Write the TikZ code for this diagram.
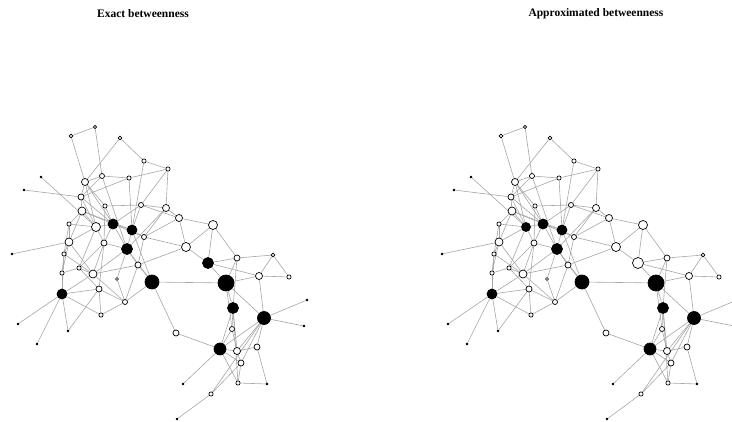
\documentclass[tikz,border=0pt]{standalone}
\usepackage{fontspec}
\setmainfont{Liberation Serif}
\pgfdeclarelayer{bg}
\pgfsetlayers{bg,main}

\begin{document}
\begin{tikzpicture}[x=1pt,y=-1pt,
	vtx/.style={circle,draw,line width=0.7pt,inner sep=0pt,minimum size=#1},
	edge/.style={draw=black!35,line width=0.6pt},
	ttl/.style={font=\bfseries\fontsize{11.5}{13}\selectfont}]
	\useasboundingbox (0,0) rectangle (732,422);
	\node[ttl] (titleL) at (143,14) {Exact betweenness};
	\node[ttl] (titleR) at (596,14) {Approximated betweenness};
	\foreach \side/\dx/\k in {L/0/1,R/430/2}{
		\foreach \x/\y/\d/\fl/\fr [count=\n] in
		{71/136/3.6/white/white,95/127/3.3/white/white,120/138/3.6/white/white,144/161/4.2/white/white,
		41/177/1.6/black/black,24/190/1.6/black/black,85/182/7/white/white,102/176/5/white/white,
		129/178/4.2/white/white,168/169/4.2/white/white,81/197/6/white/white,82/211/8/white/white,
		105/206/4.2/white/white,141/205/5/white/white,166/208/7/white/white,179/218/7/white/white,
		213/225/9/white/white,69/224/4.2/white/white,96/227/9/white/black,113/224/10/black/black,
		132/230/10/black/black,144/237/5/white/white,69/242/8/white/white,12/254/1.6/black/black,
		64/254/4.2/white/white,104/243/6/white/white,127/249/11/black/black,62/273/4.2/white/white,
		79/268/4.2/white/white,93/274/8/white/white,117/279/3/white/white,138/265/6/white/white,
		152/282/14/black/black,99/289/6/white/white,62/294/10/black/black,125/302/5/white/white,
		101/315/4.2/white/white,18/324/1.6/black/black,68/331/2/black/black,37/344/1.6/black/black,
		186/247/9/white/white,208/263/11/black/white,237/258/6/white/white,273/255/3.6/white/white,
		259/276/7/white/white,289/277/4.2/white/white,226/283/16/black/black,233/308/11/black/black,
		264/318/13/black/black,307/300/1.6/black/black,304/326/1.6/black/black,176/333/6/white/white,
		232/329/5/white/white,220/349/12/black/black,237/351/7/white/white,257/347/6/white/white,
		241/363/6/white/white,183/384/1.6/black/black,238/383/4.2/white/white,267/384/1.6/black/black,
		211/394/4.2/white/white,177/419/1.6/black/black}
		{\ifnum\k=1 \def\fc{\fl}\else\def\fc{\fr}\fi
			\node[vtx=\d,fill=\fc] (\side\n) at (\x+\dx,\y) {};}
		\begin{pgfonlayer}{bg}
			\foreach \a/\b in
			{1/2,1/7,2/8,3/4,3/7,4/10,4/21,5/19,6/11,7/8,7/11,7/13,7/20,7/19,8/9,8/11,8/27,9/10,9/11,9/21,
			10/14,10/15,11/12,11/20,11/19,12/18,12/19,12/20,12/23,12/21,13/14,13/20,13/26,14/15,14/16,
			14/20,14/21,15/16,15/22,15/27,16/17,16/41,16/22,17/41,17/42,17/43,18/19,18/23,18/25,19/20,
			19/26,19/29,19/23,20/21,20/27,20/26,20/22,21/27,21/22,21/33,22/32,22/41,23/24,23/25,23/28,
			23/30,25/28,25/30,25/35,26/30,26/27,26/29,26/34,27/32,27/33,27/30,27/31,28/29,28/35,29/30,
			29/34,30/32,30/36,30/35,31/36,32/33,32/36,32/41,33/36,33/47,33/52,34/35,34/37,34/36,35/37,
			35/38,35/39,35/40,34/39,36/37,41/42,42/43,42/47,42/45,43/44,43/47,43/48,44/45,44/46,45/46,
			45/47,45/49,47/48,47/53,47/49,48/53,48/54,48/55,48/59,49/50,49/51,49/54,49/55,49/56,49/57,
			49/61,52/54,53/54,53/55,54/55,54/57,54/58,54/59,55/56,55/57,56/60,57/59,57/61,59/60,61/62}
			\draw[edge] (\side\a) -- (\side\b);
		\end{pgfonlayer}
	}
\end{tikzpicture}
\end{document}
